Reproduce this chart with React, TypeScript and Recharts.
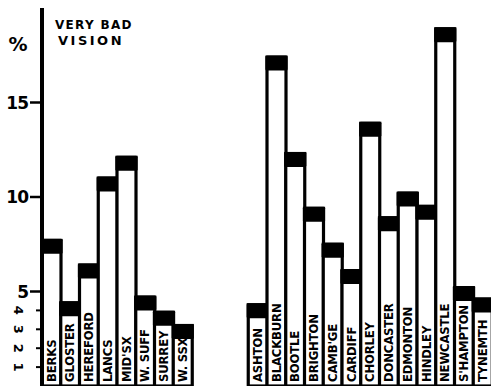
import React from "react";
import { BarChart, Bar, XAxis, YAxis } from "recharts";

// ---- data ----
const categories: string[] = [
  "BERKS", "GLOSTER", "HEREFORD", "LANCS", "MID'SX", "W. SUFF", "SURREY", "W. SSX.",
  "", "", "",
  "ASHTON", "BLACKBURN", "BOOTLE", "BRIGHTON", "CAMB'GE", "CARDIFF", "CHORLEY",
  "DONCASTER", "EDMONTON", "HINDLEY", "NEWCASTLE", "S'HAMPTON", "TYNEMTH",
];
const values: (number | null)[] = [
  7.7, 4.4, 6.4, 11.0, 12.1, 4.7, 3.9, 3.2,
  null, null, null,
  4.3, 17.4, 12.3, 9.4, 7.5, 6.1, 13.9, 8.9, 10.2, 9.5, 18.9, 5.2, 4.6,
];
const majorTicks = [5, 10, 15];
const minorTicks = [1, 2, 3, 4];
const yDomain: [number, number] = [0, 20];
const titleLines = ["VERY BAD", "VISION"];
const unitLabel = "%";

const data = categories.map((name, i) => ({ key: "c" + i, name, value: values[i] }));

const AXIS_X = 42;
const BASE_Y = 386;
const LABEL_FONT = "'Liberation Sans Narrow', 'DejaVu Sans Condensed', 'Arial Narrow', sans-serif";
const TICK_FONT = "'DejaVu Sans', sans-serif";

const BarShape = (props: any) => {
  const { x, y, width, height, payload } = props;
  if (payload == null || payload.value == null || !height) return <g />;
  const cx = x + width / 2;
  const lx = cx + 4;
  return (
    <g>
      <rect x={x} y={y} width={width} height={height} fill="#fff" stroke="#000" strokeWidth={3.2} />
      <rect x={x - 1.6} y={y - 1.6} width={width + 3.2} height={15} fill="#000" rx={1.5} />
      <text
        x={lx}
        y={BASE_Y - 4}
        transform={`rotate(-90, ${lx}, ${BASE_Y - 4})`}
        fontFamily={LABEL_FONT}
        fontWeight="bold"
        fontSize={13}
        letterSpacing={-0.2}
        fill="#000"
        textAnchor="start"
      >
        {payload.name}
      </text>
    </g>
  );
};

const YTick = (props: any) => {
  const { y, payload } = props;
  const v = payload.value;
  if (majorTicks.includes(v)) {
    return (
      <g>
        <line x1={AXIS_X - 12} x2={AXIS_X} y1={y} y2={y} stroke="#000" strokeWidth={2.5} />
        <text
          x={AXIS_X - 14}
          y={y + 6}
          textAnchor="end"
          fontFamily={TICK_FONT}
          fontWeight="bold"
          fontSize={17}
          letterSpacing={-1}
          fill="#000"
        >
          {v}
        </text>
      </g>
    );
  }
  return (
    <g>
      <line x1={AXIS_X - 6} x2={AXIS_X} y1={y} y2={y} stroke="#000" strokeWidth={2} />
      <text
        x={18}
        y={y}
        transform={`rotate(90, 18, ${y})`}
        textAnchor="middle"
        dominantBaseline="central"
        fontFamily={TICK_FONT}
        fontWeight="bold"
        fontSize={13}
        fill="#000"
      >
        {v}
      </text>
    </g>
  );
};

export default function App() {
  return (
    <div style={{ position: "absolute", left: 0, top: 0, width: 491, height: 388, overflow: "hidden", background: "#fff" }}>
      <BarChart
        width={496}
        height={388}
        data={data}
        margin={{ top: 8, right: 4, bottom: 2, left: 0 }}
        barCategoryGap={0}
        barGap={0}
      >
        <XAxis
          dataKey="key"
          tick={false}
          tickLine={false}
          height={0}
          axisLine={{ stroke: "#000", strokeWidth: 3.5 }}
        />
        <YAxis
          width={42}
          domain={yDomain}
          ticks={[...minorTicks, ...majorTicks]}
          interval={0}
          tickLine={false}
          tickSize={0}
          tick={YTick}
          axisLine={{ stroke: "#000", strokeWidth: 4 }}
          allowDataOverflow
        />
        <Bar dataKey="value" isAnimationActive={false} shape={BarShape} />
      </BarChart>
      <svg width={491} height={388} style={{ position: "absolute", left: 0, top: 0, pointerEvents: "none" }}>
        <text x={55} y={29} fontFamily={TICK_FONT} fontWeight="bold" fontSize={12} letterSpacing={1.3} fill="#000">
          {titleLines[0]}
        </text>
        <text x={58} y={45} fontFamily={TICK_FONT} fontWeight="bold" fontSize={13} letterSpacing={2.5} fill="#000">
          {titleLines[1]}
        </text>
        <text x={18} y={51} textAnchor="middle" fontFamily={TICK_FONT} fontWeight="bold" fontSize={19} fill="#000">
          {unitLabel}
        </text>
      </svg>
    </div>
  );
}
